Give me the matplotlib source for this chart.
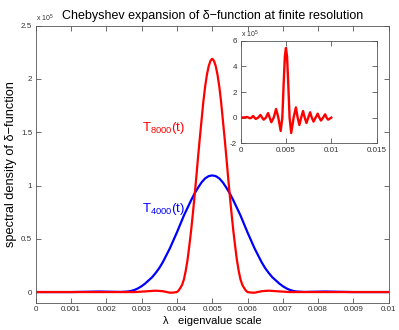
import matplotlib
matplotlib.use("Agg")
import matplotlib.pyplot as plt
from matplotlib.ticker import FuncFormatter, FixedLocator

plt.rcParams['font.family'] = ['Liberation Sans', 'DejaVu Sans']
plt.rcParams['mathtext.default'] = 'regular'

SCALE = 1e5

# ---- data (values in units of 1e5) ----
blue_x = [0.0, 0.0010, 0.0015, 0.0018, 0.0021, 0.0024, 0.0025, 0.0026, 0.0027, 0.0028,
          0.0029, 0.0030, 0.0031, 0.0032, 0.0033, 0.0034, 0.0035, 0.0036, 0.0037,
          0.0038, 0.0039, 0.0040, 0.0041, 0.0042, 0.0043, 0.0044, 0.0045, 0.0046,
          0.0047, 0.0048, 0.0049, 0.0050, 0.0051, 0.0052, 0.0053, 0.0054, 0.0055,
          0.0056, 0.0057, 0.0058, 0.0059, 0.0060, 0.0061, 0.0062, 0.0063, 0.0064,
          0.0065, 0.0066, 0.0067, 0.0068, 0.0069, 0.0070, 0.0071, 0.0072, 0.0073,
          0.0074, 0.0075, 0.0076, 0.0079, 0.0082, 0.0085, 0.0090, 0.0100]
blue_y = [0.0, 0.0, 0.003, 0.005, 0.003, 0.001, 0.003, 0.005, 0.01, 0.02,
          0.035, 0.055, 0.08, 0.11, 0.14, 0.18, 0.225, 0.28, 0.345,
          0.41, 0.485, 0.56, 0.64, 0.72, 0.79, 0.86, 0.925, 0.98,
          1.03, 1.067, 1.088, 1.095, 1.088, 1.067, 1.03, 0.98, 0.925,
          0.86, 0.79, 0.72, 0.64, 0.56, 0.485, 0.41, 0.345, 0.28,
          0.225, 0.18, 0.14, 0.11, 0.08, 0.055, 0.035, 0.02, 0.01,
          0.005, 0.003, 0.001, 0.003, 0.005, 0.003, 0.0, 0.0]

red_x = [0.0, 0.0028, 0.0031, 0.0034, 0.0036, 0.0038, 0.0039, 0.00395, 0.0040, 0.00405,
         0.0041, 0.00415, 0.0042, 0.00425, 0.0043, 0.00435, 0.0044, 0.00445, 0.0045,
         0.00455, 0.0046, 0.00465, 0.0047, 0.00475, 0.0048, 0.00485, 0.0049, 0.00495,
         0.0050, 0.00505, 0.0051, 0.00515, 0.0052, 0.00525, 0.0053, 0.00535, 0.0054,
         0.00545, 0.0055, 0.00555, 0.0056, 0.00565, 0.0057, 0.00575, 0.0058, 0.00585,
         0.0059, 0.00595, 0.0060, 0.0061, 0.0062, 0.0064, 0.0066, 0.0069, 0.0072, 0.0100]
red_y = [0.0, 0.0, 0.006, 0.013, 0.008, -0.006, -0.005, -0.002, 0.0, 0.015,
         0.04, 0.07, 0.12, 0.20, 0.30, 0.43, 0.57, 0.73, 0.90,
         1.08, 1.27, 1.45, 1.62, 1.79, 1.93, 2.04, 2.12, 2.17,
         2.19, 2.17, 2.12, 2.04, 1.93, 1.79, 1.62, 1.45, 1.27,
         1.08, 0.90, 0.73, 0.57, 0.43, 0.30, 0.20, 0.12, 0.07,
         0.04, 0.015, 0.0, -0.005, -0.006, 0.008, 0.013, 0.006, 0.0, 0.0]

inset_x = [0.0, 0.0004, 0.00073, 0.00088, 0.00102, 0.0012, 0.00139, 0.00153, 0.00168,
           0.00193, 0.00219, 0.00237, 0.00255, 0.00279, 0.00303, 0.00321, 0.00339,
           0.00365, 0.00391, 0.00416, 0.00442, 0.0046, 0.00475, 0.00488, 0.0050,
           0.00512, 0.00525, 0.0054, 0.00558, 0.00584, 0.0061, 0.00629, 0.00648,
           0.00668, 0.00688, 0.00707, 0.00726, 0.00746, 0.00766, 0.00785, 0.00804,
           0.00827, 0.0085, 0.00868, 0.00886, 0.00909, 0.00932, 0.00948, 0.00965,
           0.0100]
inset_y = [0.0, 0.02, 0.05, 0.0, -0.05, 0.0, 0.13, 0.0, -0.10,
           0.0, 0.21, 0.0, -0.16, 0.0, 0.36, 0.0, -0.36,
           0.0, 0.68, 0.0, -1.04, 0.0, 2.7, 4.8, 5.45,
           4.8, 2.7, 0.0, -1.2, 0.0, 0.8, 0.0, -0.57,
           0.0, 0.52, 0.0, -0.42, 0.0, 0.42, 0.0, -0.31,
           0.0, 0.31, 0.0, -0.23, 0.0, 0.26, 0.0, -0.16,
           0.0]

main_xticks = [0, 0.001, 0.002, 0.003, 0.004, 0.005, 0.006, 0.007, 0.008, 0.009, 0.01]
main_yticks = [0, 0.5, 1, 1.5, 2, 2.5]
inset_xticks = [0, 0.005, 0.01, 0.015]
inset_yticks = [-2, 0, 2, 4, 6]

label_red = r'T$_{8000}$(t)'
label_blue = r'T$_{4000}$(t)'
title = 'Chebyshev expansion of δ−function at finite resolution'
xlabel = 'λ   eigenvalue scale'
ylabel = 'spectral density of δ−function'

# ---- figure ----
fig = plt.figure(figsize=(3.99, 3.30), dpi=100)
ax = fig.add_axes([0.0895, 0.0827, 0.8847, 0.8394])

ax.plot(blue_x, [v * SCALE for v in blue_y], color='#0000ff', lw=1.6,
        solid_joinstyle='round')
ax.plot(red_x, [v * SCALE for v in red_y], color='#ff0000', lw=1.6,
        solid_joinstyle='round')
ax.set_xlim(0, 0.01)
ax.set_ylim(-0.1 * SCALE, 2.5 * SCALE)

fmt_x = FuncFormatter(lambda v, p: '%g' % v)
fmt_y = FuncFormatter(lambda v, p: '%g' % (v / SCALE))


def style(a, xt, yt, size):
    a.xaxis.set_major_locator(FixedLocator(xt))
    a.yaxis.set_major_locator(FixedLocator([t * SCALE for t in yt]))
    a.xaxis.set_major_formatter(fmt_x)
    a.yaxis.set_major_formatter(fmt_y)
    a.tick_params(direction='in', length=3.5, width=0.5, top=True, right=True,
                  labelsize=size, colors='#333333', pad=2.5)
    for s in a.spines.values():
        s.set_color('#555555')
        s.set_linewidth(0.6)


style(ax, main_xticks, main_yticks, 5.8)

ax.set_title(title, fontsize=9.0, pad=5)
ax.set_xlabel(xlabel, fontsize=8.0, labelpad=2)
ax.set_ylabel(ylabel, fontsize=9.2, labelpad=3)
ax.text(0.0, 1.006, r'x 10$^{5}$', transform=ax.transAxes, fontsize=5.0,
        ha='left', va='bottom', color='#333333')

ax.text(0.0030, 1.54 * SCALE, label_red, color='#ff0000', fontsize=9.5,
        ha='left', va='center')
ax.text(0.0030, 0.78 * SCALE, label_blue, color='#0000ff', fontsize=9.5,
        ha='left', va='center')

# ---- inset ----
ins = fig.add_axes([0.603, 0.566, 0.341, 0.310])
ins.plot(inset_x, [v * SCALE for v in inset_y], color='#ff0000', lw=1.7,
         solid_joinstyle='round')
ins.set_xlim(0, 0.015)
ins.set_ylim(-2 * SCALE, 6 * SCALE)
style(ins, inset_xticks, inset_yticks, 5.8)
ins.text(0.0, 1.01, r'x 10$^{5}$', transform=ins.transAxes, fontsize=5.0,
         ha='left', va='bottom', color='#333333')

fig.savefig('out.png', dpi=100)
